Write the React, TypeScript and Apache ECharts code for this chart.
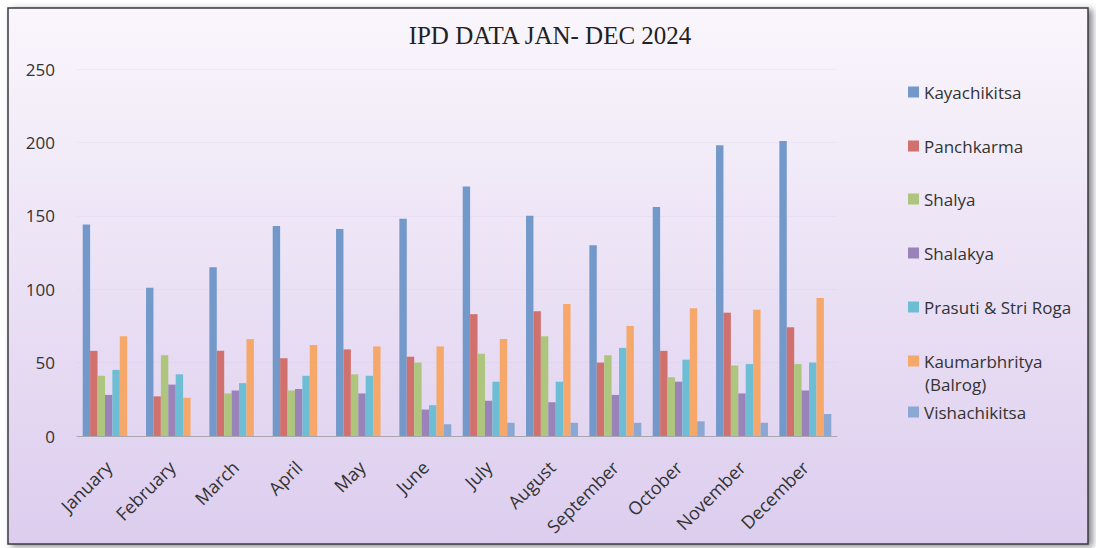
import React, { useEffect, useRef } from "react";
import * as echarts from "echarts";

const months = ["January","February","March","April","May","June","July","August","September","October","November","December"];
const seriesNames = ["Kayachikitsa","Panchkarma","Shalya","Shalakya","Prasuti & Stri Roga","Kaumarbhritya (Balrog)","Vishachikitsa"];
const kayachikitsa = [144, 101, 115, 143, 141, 148, 170, 150, 130, 156, 198, 201];
const panchkarma = [58, 27, 58, 53, 59, 54, 83, 85, 50, 58, 84, 74];
const shalya = [41, 55, 29, 31, 42, 50, 56, 68, 55, 40, 48, 49];
const shalakya = [28, 35, 31, 32, 29, 18, 24, 23, 28, 37, 29, 31];
const prasuti = [45, 42, 36, 41, 41, 21, 37, 37, 60, 52, 49, 50];
const kaumarbhritya = [68, 26, 66, 62, 61, 61, 66, 90, 75, 87, 86, 94];
const vishachikitsa = [0, 0, 0, 0, 0, 8, 9, 9, 9, 10, 9, 15];
const yTicks = [0, 50, 100, 150, 200, 250];

const colors = ["#7399cb", "#d0716e", "#adc57c", "#9a83b8", "#6dbdd4", "#f6a86b", "#8ba7d3"];
const allData = [kayachikitsa, panchkarma, shalya, shalakya, prasuti, kaumarbhritya, vishachikitsa];
const legendTops = [92, 146, 199, 253, 307, 361, 412];

export default function App() {
  const ref = useRef<HTMLDivElement>(null);
  useEffect(() => {
    document.body.style.margin = "0";
    const chart = echarts.init(ref.current!, undefined, { renderer: "svg" });
    const font = "'Open Sans', sans-serif";
    chart.setOption({
      animation: false,
      backgroundColor: "#ffffff",
      title: {
        text: "IPD DATA JAN- DEC 2024",
        left: 550,
        textAlign: "center",
        top: 23,
        padding: 0,
        textStyle: { fontFamily: "'Liberation Serif', serif", fontWeight: "normal", fontSize: 25, color: "#222" },
      },
      graphic: [
        {
          type: "rect",
          z: -10,
          silent: true,
          shape: { x: 8, y: 8, width: 1080, height: 536 },
          style: {
            fill: new echarts.graphic.LinearGradient(0, 0, 0, 1, [
              { offset: 0, color: "#faf6fc" },
              { offset: 1, color: "#dccdee" },
            ]),
            stroke: "#3a3a3a",
            lineWidth: 1.5,
            shadowColor: "rgba(60,60,70,0.6)",
            shadowBlur: 6,
            shadowOffsetX: 4,
            shadowOffsetY: 2,
          },
        },
        {
          type: "text",
          left: 925,
          top: 376,
          style: { text: "(Balrog)", fill: "#333", font: `17px ${font}` },
        },
      ],
      legend: seriesNames.map((n, i) => ({
        data: [n],
        orient: "vertical",
        left: 908,
        top: legendTops[i] - 10,
        padding: 0,
        itemWidth: 11,
        itemHeight: 11,
        itemGap: 6,
        icon: "rect",
        formatter: (name: string) => (name === "Kaumarbhritya (Balrog)" ? "Kaumarbhritya" : name),
        textStyle: { fontFamily: font, fontSize: 17, color: "#333", lineHeight: 20 },
      })),
      grid: { left: 77, right: 259, top: 69, bottom: 112, containLabel: false },
      xAxis: {
        type: "category",
        data: months,
        axisLine: { lineStyle: { color: "#a8a8b0", width: 1 } },
        axisTick: { show: false },
        axisLabel: { rotate: 45, margin: 28, fontFamily: font, fontSize: 18, color: "#333", interval: 0 },
      },
      yAxis: {
        type: "value",
        min: 0,
        max: 250,
        interval: 50,
        axisLine: { show: false },
        axisTick: { show: false },
        splitLine: { show: true, lineStyle: { color: "rgba(200,190,220,0.15)" } },
        axisLabel: {
          margin: 22,
          fontFamily: font,
          fontSize: 17,
          color: "#333",
          customValues: yTicks,
        },
      },
      series: seriesNames.map((n, i) => ({
        name: n,
        type: "bar",
        data: allData[i],
        barGap: "0%",
        barCategoryGap: "18%",
        itemStyle: { color: colors[i] },
      })),
    });
    return () => chart.dispose();
  }, []);
  return <div ref={ref} style={{ position: "fixed", left: 0, top: 0, width: 1096, height: 548 }} />;
}
